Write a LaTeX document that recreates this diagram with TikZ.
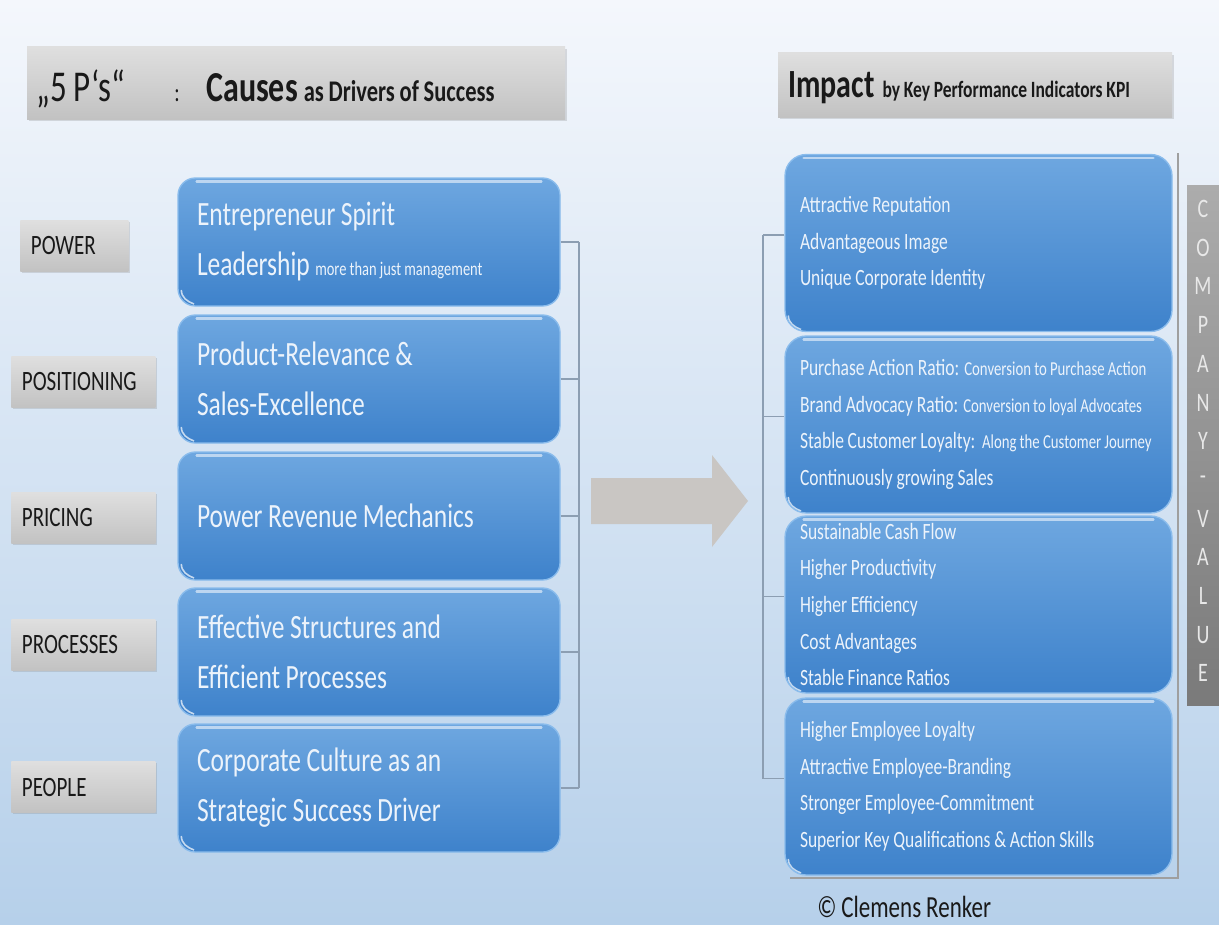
\documentclass[tikz,border=0pt]{standalone}
\usepackage{fontspec}
\setmainfont{Carlito}[FakeStretch=0.75,WordSpace=0.95]
\usetikzlibrary{shadows}

\definecolor{bgtop}{RGB}{244,247,252}
\definecolor{bgbottom}{RGB}{182,208,234}
\definecolor{boxtop}{RGB}{110,167,224}
\definecolor{boxbottom}{RGB}{62,130,203}
\definecolor{boxline}{RGB}{138,188,236}
\definecolor{boxtext}{RGB}{236,243,251}
\definecolor{graytop}{RGB}{223,223,223}
\definecolor{graybottom}{RGB}{194,194,194}
\definecolor{bracket}{RGB}{140,158,178}
\definecolor{arrowgray}{RGB}{201,198,195}
\definecolor{valuetop}{RGB}{172,172,172}
\definecolor{valuebottom}{RGB}{122,122,122}
\definecolor{valuetext}{RGB}{232,232,232}

\tikzset{
  gloss/.style={path picture={
    \draw[white,opacity=0.55,line width=2pt,line cap=round]
      ([xshift=14pt,yshift=-2.5pt]path picture bounding box.north west) --
      ([xshift=-14pt,yshift=-2.5pt]path picture bounding box.north east);
    \draw[white,opacity=0.7,line width=1.2pt]
      ([xshift=2.5pt,yshift=12pt]path picture bounding box.south west) to[out=-90,in=160]
      ([xshift=12pt,yshift=1.5pt]path picture bounding box.south west);
  }},
  causebox/.style={rounded corners=13pt, draw=boxline, line width=1pt,
    top color=boxtop, bottom color=boxbottom, gloss,
    minimum height=96pt, text width=258pt, inner xsep=14.25pt, align=flush left,
    text=boxtext, font=\fontsize{25.5}{37.5}\selectfont},
  kpibox/.style={rounded corners=16pt, draw=boxline, line width=1pt,
    top color=boxtop, bottom color=boxbottom, gloss,
    minimum height=132.75pt, text width=267.75pt, inner xsep=11.25pt, align=flush left,
    text=boxtext, font=\fontsize{17.5}{27.4}\selectfont},
  labelbox/.style={anchor=west, minimum height=38.25pt, inner xsep=8pt, align=flush left,
    top color=graytop, bottom color=graybottom,
    drop shadow={shadow xshift=1.2pt,shadow yshift=-1.2pt,opacity=0.25},
    text=black!90, font=\fontsize{21}{24}\selectfont},
  titlebox/.style={top color=graytop, bottom color=graybottom,
    drop shadow={shadow xshift=1.5pt,shadow yshift=-1.5pt,opacity=0.25}},
  headtext/.style={anchor=base west, inner sep=0pt, text=black!90},
  bracketline/.style={draw=bracket, line width=0.9pt},
  valuechar/.style={text=valuetext, inner sep=0pt, font=\fontsize{20}{22}\selectfont},
}
\newcommand{\kpinote}[1]{{\fontsize{14.8}{16}\selectfont #1}}

\begin{document}
\begin{tikzpicture}[x=0.75pt,y=-0.75pt]
    % background, pale at the top and bluer at the bottom
    \useasboundingbox (0,0) rectangle (1219,924);
    \shade[top color=bgtop,bottom color=bgbottom] (0,0) rectangle (1219,924);

    % heading bars
    \node[titlebox,minimum width=403.5pt,minimum height=54pt] (causestitle) at (296,83) {};
    \node[headtext,font=\fontsize{33}{38}\selectfont] (fivep) at (36,101) {„5 P‘s“};
    \node[headtext,font=\fontsize{20}{24}\selectfont] (colon) at (174,101) {:};
    \node[headtext,font=\bfseries] (causes) at (206,101)
      {{\fontsize{32}{38}\selectfont Causes}\hspace{4.5pt}{\fontsize{22.5}{26}\selectfont as Drivers of Success}};

    \node[titlebox,minimum width=295.5pt,minimum height=48pt] (impacttitle) at (975,85) {};
    \node[headtext,font=\bfseries] (impact) at (788,98)
      {{\fontsize{30}{34}\selectfont Impact}\hspace{6pt}{\fontsize{17.5}{20}\selectfont by Key Performance Indicators KPI}};

    % the five P's
    \node[labelbox,text width=65pt] (power) at (20,246) {POWER};
    \node[labelbox,text width=92pt] (positioning) at (11,382) {POSITIONING};
    \node[labelbox,text width=92pt] (pricing) at (11,518) {PRICING};
    \node[labelbox,text width=92pt] (processes) at (11,645) {PROCESSES};
    \node[labelbox,text width=92pt] (people) at (11,787) {PEOPLE};

    % causes
    \node[causebox] (c1) at (369,242) {Entrepreneur Spirit\\Leadership {\fontsize{14.5}{15}\selectfont more than just management}};
    \node[causebox] (c2) at (369,379) {Product-Relevance \&\\Sales-Excellence};
    \node[causebox] (c3) at (369,516) {Power Revenue Mechanics};
    \node[causebox] (c4) at (369,652) {Effective Structures and\\Efficient Processes};
    \node[causebox] (c5) at (369,788) {Corporate Culture as an\\Strategic Success Driver};

    % bracket joining the causes
    \coordinate (lspine) at (579,0);
    \foreach \n in {c1,c2,c3,c4,c5}
        \draw[bracketline] (\n.east) -- (\n.east -| lspine);
    \draw[bracketline] (c1.east -| lspine) -- (c5.east -| lspine);

    % big arrow from causes to impact
    \fill[arrowgray] (591,478) -- (712,478) -- (712,455) -- (748,501) -- (712,547) -- (712,524) -- (591,524) -- cycle;

    % shadow frame behind the KPI column
    \draw[gray!75,line width=1.5pt] (1178,153) -- (1178,878) -- (790,878);

    % KPI boxes
    \node[kpibox] (kA) at (978.5,243) {Attractive Reputation\\Advantageous Image\\Unique Corporate Identity};
    \node[kpibox] (kB) at (978.5,424.5) {\mbox{Purchase Action Ratio: \kpinote{Conversion to Purchase Action}}\\
        \mbox{Brand Advocacy Ratio: \kpinote{Conversion to loyal Advocates}}\\
        \mbox{Stable Customer Loyalty:\hspace{5pt}\kpinote{Along the Customer Journey}}\\
        Continuously growing Sales};
    \node[kpibox] (kC) at (978.5,604.5) {Sustainable Cash Flow\\Higher Productivity\\Higher Efficiency\\Cost Advantages\\Stable Finance Ratios};
    \node[kpibox] (kD) at (978.5,786.5) {Higher Employee Loyalty\\Attractive Employee-Branding\\Stronger Employee-Commitment\\Superior Key Qualifications \& Action Skills};

    % bracket joining the KPIs
    \coordinate (rspine) at (763,0);
    \foreach \n in {kA,kB,kC,kD}
        \draw[bracketline] ([yshift=6pt]\n.west) -- ([yshift=6pt]\n.west -| rspine);
    \draw[bracketline] ([yshift=6pt]kA.west -| rspine) -- ([yshift=6pt]kD.west -| rspine);

    % company value bar
    \node[top color=valuetop,bottom color=valuebottom,minimum width=24pt,minimum height=390pt,inner sep=0pt] (valuebar) at (1203,445) {};
    \foreach \ch [count=\i] in {C,O,M,P,A,N,Y,-,V,A,L,U,E}
        \node[valuechar] (v\i) at (1203,{209+(\i-1)*38.7}) {\ch};

    \node[headtext,font=\fontsize{23}{26}\selectfont] (copyright) at (817,917) {© Clemens Renker};
\end{tikzpicture}
\end{document}
